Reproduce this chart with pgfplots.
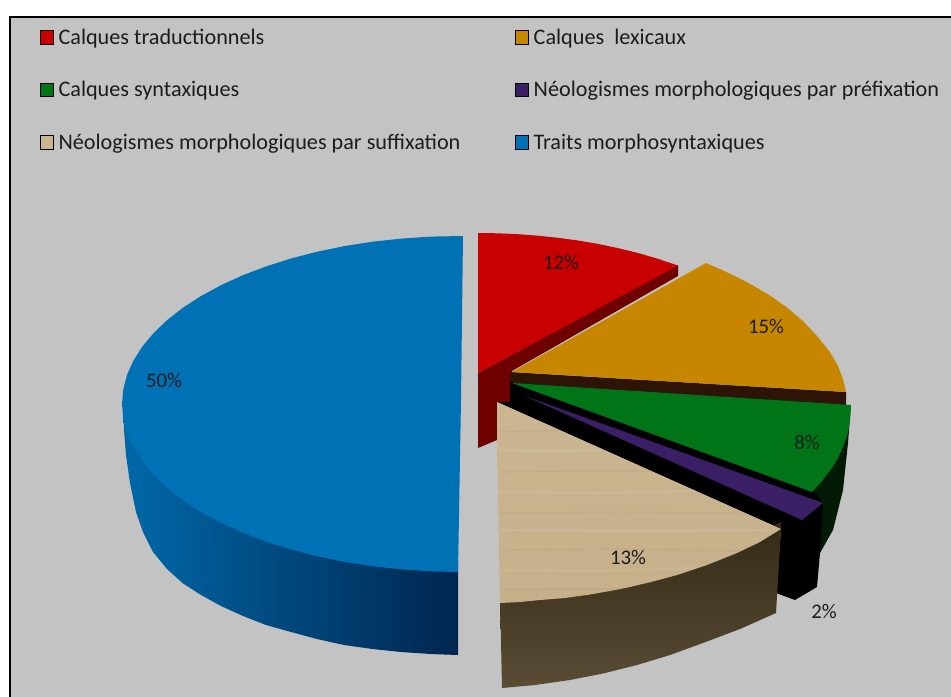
\documentclass[border=0pt]{standalone}
\usepackage{pgfplots}
\pgfplotsset{compat=1.18}
\usepackage{fontspec}
\setmainfont{Carlito}
\definecolor{bgc}{HTML}{C3C3C3}
\definecolor{redt}{HTML}{C80000}
\definecolor{reds}{HTML}{6E0000}
\definecolor{oranget}{HTML}{C68600}
\definecolor{oranges}{HTML}{2E1406}
\definecolor{greent}{HTML}{007518}
\definecolor{greens}{HTML}{001A06}
\definecolor{purplet}{HTML}{3A1E66}
\definecolor{woodt}{HTML}{CBB691}
\definecolor{woodb}{HTML}{C6B08A}
\definecolor{woodsa}{HTML}{342A16}
\definecolor{woodsb}{HTML}{5A4C35}
\definecolor{bluet}{HTML}{0071B5}
\definecolor{bluea}{HTML}{0068A8}
\definecolor{blueb}{HTML}{004C85}
\definecolor{bluec}{HTML}{00264F}
\definecolor{txt}{HTML}{1C1C1C}
\tikzset{lab/.style={font=\fontsize{15.6}{18}\selectfont, text=txt, inner sep=0pt}}
\begin{document}
\begin{tikzpicture}
\begin{axis}[
  scale only axis, width=713.25pt, height=522.75pt,
  xmin=0, xmax=951, ymin=0, ymax=697, y dir=reverse,
  hide axis, clip=true,
  every axis plot/.append style={forget plot},
  legend style={
    at={(axis cs:40,26)}, anchor=north west, draw=none, fill=none,
    font=\fontsize{16.65}{19}\selectfont, text=txt,
    legend columns=2, row sep=22.3pt,
    inner sep=0pt, outer sep=0pt,
    /tikz/every even column/.append style={column sep=39pt},
    cells={anchor=west},
  },
  legend cell align=left,
  legend image code/.code={\fill[#1] (0pt,-5pt) rectangle (10pt,5pt); \path (11.5pt,0pt);},
]
% background and frame
\addplot[fill=white, draw=none] coordinates {(0,0)(951,0)(951,697)(0,697)} \closedcycle;
\addplot[fill=bgc, draw=black, line width=1.6pt] coordinates {(10,17)(960,17)(960,705)(10,705)} -- cycle;
% Calques traductionnels 12%
\addplot[fill=reds, draw=none] coordinates {(478,373)(678,265)(678,276)(512,371)(510,402)(497,402)(497,440)(478,448)} -- cycle;
\addplot[fill=redt, draw=none] coordinates {(478,233)(498,233.3)(518,234.2)(538,235.7)(558,237.8)(578,240.5)(598,243.9)(618,248.1)(638,253)(658,258.8)(678,265.6)(478,373)} -- cycle;
% Calques lexicaux 15%
\addplot[fill=oranges, draw=none] coordinates {(510,372)(846,392)(846,406)(510,386)} -- cycle;
\addplot[fill=oranget, draw=none] coordinates {(512,372)(706,263)(721,269.5)(737,277)(753,285.5)(770,295.5)(787,307.5)(803,321)(817,336)(830,352)(838,366)(843,379)(846,392)} -- cycle;
% dark sides
\addplot[fill=greens, draw=none] coordinates {(851,405)(848,443)(843,490)(833,530)(820,553)(812,560)(780,530)(790,480)} -- cycle;
\addplot[fill=black, draw=none] coordinates {(510,382)(812,488)(823,503)(820,553)(817,587)(795,600)(776,593)(781,529)(497,402)(510,402)} -- cycle;
% Calques syntaxiques 8%
\addplot[fill=greent, draw=none] coordinates {(512,383)(851,405)(850,420)(848,433)(843,447)(837,460)(832,468)(822,481)(812,492)} -- cycle;
% Prefixation 2%
\addplot[fill=purplet, draw=none] coordinates {(525,396)(823,503)(802,520)} -- cycle;
% Suffixation 13%
\addplot[bottom color=woodsb, top color=woodsa, draw=none] coordinates {(500,595)(590,585)(677,565)(737,543)(781,522)(781,529)(776,613)(740,629)(703,643)(670,655)(637,665)(603,673.5)(570,680)(535,685)(502,688)} -- cycle;
\addplot[top color=woodt, bottom color=woodb, draw=none] coordinates {(497,402)(498,490)(500,603)(520,602)(540,600)(565,598)(590,594.5)(610,591)(630,587)(655,581)(677,575)(707,565)(737,553)(760,542)(781,529)} -- cycle;
% wood grain
\addplot[color=woodb!85!black, opacity=.25, line width=1pt] coordinates {(499,432)(525,431)(558,431)};
\addplot[color=white, opacity=.07, line width=2pt] coordinates {(499,450)(550,451)(602,450)};
\addplot[color=woodb!85!black, opacity=.25, line width=1pt] coordinates {(499,472)(570,471)(652,471)};
\addplot[color=white, opacity=.07, line width=2pt] coordinates {(499,492)(600,493)(696,491)};
\addplot[color=woodb!85!black, opacity=.2, line width=1pt] coordinates {(500,513)(620,512)(740,513)};
\addplot[color=white, opacity=.07, line width=2pt] coordinates {(500,530)(640,531)(770,530)};
\addplot[color=woodb!85!black, opacity=.2, line width=1pt] coordinates {(500,550)(620,549)(740,551)};
\addplot[color=white, opacity=.07, line width=2pt] coordinates {(500,570)(600,571)(695,568)};
\addplot[color=woodb!85!black, opacity=.2, line width=1pt] coordinates {(500,590)(560,589)(620,589)};
% Traits morphosyntaxiques 50%
\addplot[left color=bluea, middle color=blueb, right color=bluec, draw=none] coordinates {(123,405)(124,430)(126,455)(130,483)(136,512)(143,532)(153,552)(167,569)(183,583.4)(201,595)(221,606)(243,616)(266,625)(291,632)(317,639)(344,645)(372.5,649)(401,652)(430.5,654)(458,655)(458,560)(123,400)} -- cycle;
\addplot[fill=bluet, draw=none] coordinates {(463,236)(430.5,236.6)(401.3,238.6)(372.5,241.7)(344.4,246.1)(317.2,251.7)(291,258.5)(266.1,266.4)(242.7,275.3)(221,285.2)(201.1,296)(183.1,307.6)(167.3,320)(153.7,333)(142.4,346.5)(133.5,360.5)(127,374.8)(123.3,389.4)(122,404)(123.3,418.6)(127,433.2)(133.5,447.5)(142.4,461.5)(153.7,475)(167.3,488)(183.1,500.4)(201.1,512)(221,522.8)(242.7,532.7)(266.1,541.6)(291,549.5)(317.2,556.3)(344.4,561.9)(372.5,566.3)(401.3,569.4)(430.5,571.4)(458,572)(461,400)} -- cycle;
% legend
\addlegendimage{fill=redt}\addlegendentry{Calques traductionnels}
\addlegendimage{fill=oranget}\addlegendentry{Calques\ \ lexicaux}
\addlegendimage{fill=greent}\addlegendentry{Calques syntaxiques}
\addlegendimage{fill=purplet}\addlegendentry{Néologismes morphologiques par préfixation}
\addlegendimage{fill=woodt}\addlegendentry{Néologismes morphologiques par suffixation}
\addlegendimage{fill=bluet}\addlegendentry{Traits morphosyntaxiques}
% percentage labels
\node[lab] at (axis cs:561,262) {12\%};
\node[lab] at (axis cs:766,326) {15\%};
\node[lab] at (axis cs:807,442) {8\%};
\node[lab] at (axis cs:824,611) {2\%};
\node[lab] at (axis cs:628,557) {13\%};
\node[lab] at (axis cs:164,380) {50\%};
\end{axis}
\end{tikzpicture}
\end{document}
